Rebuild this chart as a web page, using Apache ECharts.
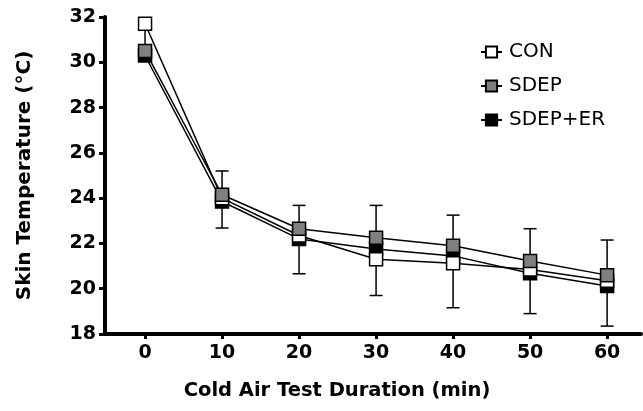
<!DOCTYPE html>
<html><head><meta charset="utf-8">
<script src="https://cdn.jsdelivr.net/npm/echarts@6/dist/echarts.min.js"></script>
<style>html,body{margin:0;padding:0;background:#fff}#c{width:643px;height:411px}</style>
</head><body><div id="c"></div>
<script>
var minutes = [0, 10, 20, 30, 40, 50, 60];
var con = [31.7, 24.0, 22.35, 21.3, 21.12, 20.85, 20.35];
var sdep = [30.5, 24.15, 22.65, 22.25, 21.9, 21.22, 20.6];
var sdepEr = [30.3, 23.85, 22.2, 21.75, 21.45, 20.68, 20.12];
var errLow = [30.4, 22.68, 20.66, 19.7, 19.16, 18.9, 18.35];
var errHigh = [31.7, 25.2, 23.68, 23.68, 23.25, 22.65, 22.15];
var yTicks = [18, 20, 22, 24, 26, 28, 30, 32];

var FONT = '"DejaVu Sans", Arial, sans-serif';
function pts(arr){ return minutes.map(function(m,i){ return [m, arr[i]]; }); }
var errData = minutes.map(function(m,i){ return [m, errLow[i], errHigh[i]]; });

var chart = echarts.init(document.getElementById('c'), null, {renderer:'canvas'});
function mk(name, arr, fill, z){
  return {type:'line', name:name, data:pts(arr), z:z, symbol:'rect', symbolSize:13, showAllSymbol:true,
    lineStyle:{color:'#000', width:1.5},
    itemStyle:{color:fill, borderColor:'#000', borderWidth:1.5}, emphasis:{disabled:true}};
}
chart.setOption({
  animation:false,
  grid:{left:105, right:2, top:17, bottom:77, containLabel:false},
  legend:{
    orient:'vertical', left:475, top:37, itemWidth:21, itemHeight:14, itemGap:14,
    data:['CON','SDEP','SDEP+ER'],
    textStyle:{fontFamily:FONT, fontSize:20, color:'#000', padding:[0,0,0,2]}
  },
  xAxis:{
    type:'value', min:-5.2, max:64.4,
    splitLine:{show:false},
    axisLine:{onZero:false, lineStyle:{color:'#000', width:4}},
    axisTick:{length:5, lineStyle:{color:'#000', width:3}, customValues:minutes},
    axisLabel:{customValues:minutes, margin:10, fontFamily:FONT, fontWeight:'bold', fontSize:19, color:'#000'}
  },
  yAxis:{
    type:'value', min:18, max:32, interval:2,
    name:'Skin Temperature (\u00b0C)', nameLocation:'middle', nameGap:70, nameRotate:90,
    nameTextStyle:{fontFamily:FONT, fontWeight:'bold', fontSize:20, color:'#000'},
    splitLine:{show:false},
    axisLine:{onZero:false, lineStyle:{color:'#000', width:4}},
    axisTick:{length:6, lineStyle:{color:'#000', width:3}},
    axisLabel:{margin:9, fontFamily:FONT, fontWeight:'bold', fontSize:19, color:'#000'}
  },
  graphic:[{type:'text', x:337, y:391,
    style:{text:'Cold Air Test Duration (min)', font:'bold 19.5px '+FONT, fill:'#000',
      textAlign:'center', textVerticalAlign:'middle'}}],
  series:[
    {type:'custom', name:'err', z:1, data:errData, silent:true,
      renderItem:function(params, api){
        var x = api.value(0);
        var lo = api.coord([x, api.value(1)]);
        var hi = api.coord([x, api.value(2)]);
        var w = 6.5;
        var st = {stroke:'#000', lineWidth:1.5, fill:null};
        return {type:'group', children:[
          {type:'line', shape:{x1:lo[0], y1:lo[1], x2:hi[0], y2:hi[1]}, style:st},
          {type:'line', shape:{x1:lo[0]-w, y1:lo[1], x2:lo[0]+w, y2:lo[1]}, style:st},
          {type:'line', shape:{x1:hi[0]-w, y1:hi[1], x2:hi[0]+w, y2:hi[1]}, style:st}
        ]};
      }},
    mk('SDEP+ER', sdepEr, '#000000', 2),
    mk('CON', con, '#ffffff', 3),
    mk('SDEP', sdep, '#7f7f7f', 4)
  ]
});
</script></body></html>
